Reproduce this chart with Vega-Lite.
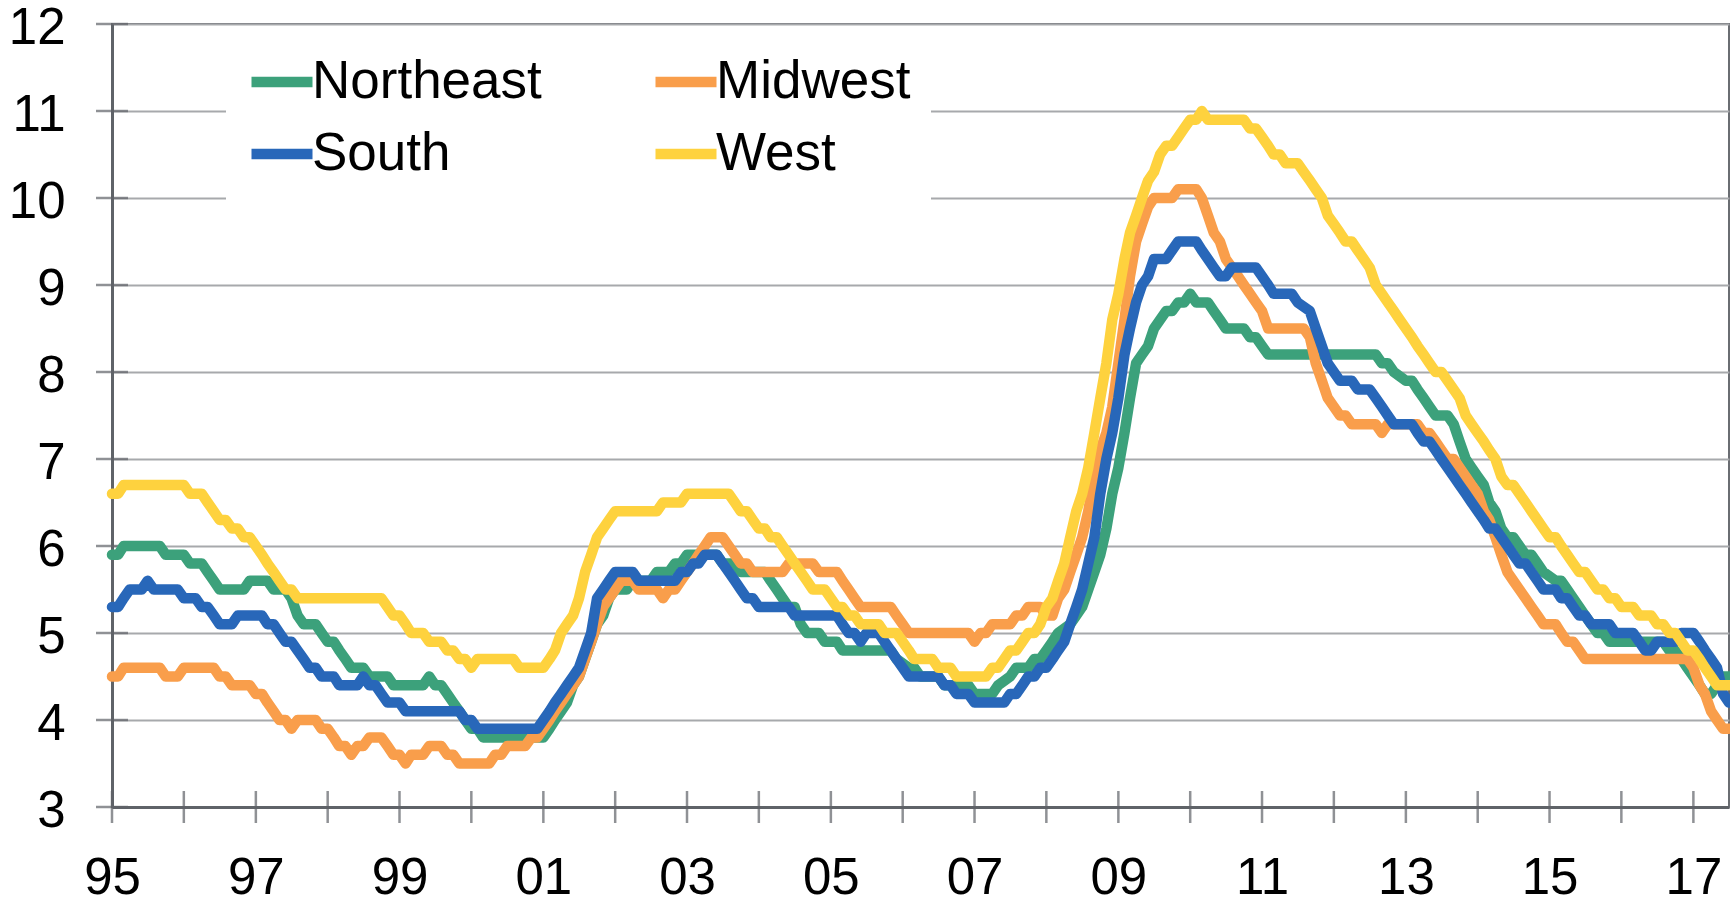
{
  "$schema": "https://vega.github.io/schema/vega-lite/v6.json",
  "width": 1617,
  "height": 783,
  "autosize": {"type": "none"},
  "padding": {"left": 112, "top": 24, "right": 1, "bottom": 91},
  "background": "white",
  "config": {
    "font": "Liberation Sans",
    "view": {"stroke": "#6a6d72", "strokeWidth": 2},
    "axis": {
      "title": null,
      "domainColor": "#5f6368",
      "domainWidth": 3,
      "ticks": false,
      "labelFont": "Liberation Sans",
      "labelFontSize": 51,
      "labelColor": "#000000",
      "labelFlush": false,
      "labelOverlap": false,
      "labelBound": false,
      "gridColor": "#a7a9ac",
      "gridWidth": 2
    }
  },
  "layer": [
    {
      "data": {"values": [{"t": 3}, {"t": 4}, {"t": 5}, {"t": 6}, {"t": 7}, {"t": 8}, {"t": 9}, {"t": 10}, {"t": 11}, {"t": 12}]},
      "mark": {"type": "tick", "orient": "horizontal", "size": 32, "thickness": 2.5, "color": "#5f6368"},
      "encoding": {
        "x": {"datum": {"year": 1995, "month": 1, "date": 1, "utc": true}, "type": "temporal"},
        "y": {"field": "t", "type": "quantitative"}
      }
    },
    {
      "data": {"values": [{"yr": "1995-01"}, {"yr": "1996-01"}, {"yr": "1997-01"}, {"yr": "1998-01"}, {"yr": "1999-01"}, {"yr": "2000-01"}, {"yr": "2001-01"}, {"yr": "2002-01"}, {"yr": "2003-01"}, {"yr": "2004-01"}, {"yr": "2005-01"}, {"yr": "2006-01"}, {"yr": "2007-01"}, {"yr": "2008-01"}, {"yr": "2009-01"}, {"yr": "2010-01"}, {"yr": "2011-01"}, {"yr": "2012-01"}, {"yr": "2013-01"}, {"yr": "2014-01"}, {"yr": "2015-01"}, {"yr": "2016-01"}, {"yr": "2017-01"}]},
      "mark": {"type": "tick", "orient": "vertical", "size": 32, "thickness": 2.5, "color": "#5f6368"},
      "encoding": {
        "x": {"field": "yr", "type": "temporal"},
        "y": {"datum": 3, "type": "quantitative"}
      }
    },
    {
      "data": {"values": [
        {"r":"Northeast","d":"1995-01","v":5.9},{"r":"Northeast","d":"1995-02","v":5.9},{"r":"Northeast","d":"1995-03","v":6.0},{"r":"Northeast","d":"1995-09","v":6.0},{"r":"Northeast","d":"1995-10","v":5.9},{"r":"Northeast","d":"1996-01","v":5.9},{"r":"Northeast","d":"1996-02","v":5.8},{"r":"Northeast","d":"1996-04","v":5.8},{"r":"Northeast","d":"1996-05","v":5.7},{"r":"Northeast","d":"1996-06","v":5.6},{"r":"Northeast","d":"1996-07","v":5.5},{"r":"Northeast","d":"1996-11","v":5.5},{"r":"Northeast","d":"1996-12","v":5.6},{"r":"Northeast","d":"1997-03","v":5.6},{"r":"Northeast","d":"1997-04","v":5.5},{"r":"Northeast","d":"1997-06","v":5.5},{"r":"Northeast","d":"1997-07","v":5.4},{"r":"Northeast","d":"1997-08","v":5.2},{"r":"Northeast","d":"1997-09","v":5.1},{"r":"Northeast","d":"1997-11","v":5.1},{"r":"Northeast","d":"1997-12","v":5.0},{"r":"Northeast","d":"1998-01","v":4.9},{"r":"Northeast","d":"1998-02","v":4.9},{"r":"Northeast","d":"1998-03","v":4.8},{"r":"Northeast","d":"1998-04","v":4.7},{"r":"Northeast","d":"1998-05","v":4.6},{"r":"Northeast","d":"1998-07","v":4.6},{"r":"Northeast","d":"1998-08","v":4.5},{"r":"Northeast","d":"1998-11","v":4.5},{"r":"Northeast","d":"1998-12","v":4.4},{"r":"Northeast","d":"1999-05","v":4.4},{"r":"Northeast","d":"1999-06","v":4.5},{"r":"Northeast","d":"1999-07","v":4.4},{"r":"Northeast","d":"1999-08","v":4.4},{"r":"Northeast","d":"1999-09","v":4.3},{"r":"Northeast","d":"1999-10","v":4.2},{"r":"Northeast","d":"1999-11","v":4.1},{"r":"Northeast","d":"1999-12","v":4.0},{"r":"Northeast","d":"2000-01","v":3.9},{"r":"Northeast","d":"2000-02","v":3.9},{"r":"Northeast","d":"2000-03","v":3.8},{"r":"Northeast","d":"2001-01","v":3.8},{"r":"Northeast","d":"2001-02","v":3.9},{"r":"Northeast","d":"2001-03","v":4.0},{"r":"Northeast","d":"2001-04","v":4.1},{"r":"Northeast","d":"2001-05","v":4.2},{"r":"Northeast","d":"2001-06","v":4.4},{"r":"Northeast","d":"2001-07","v":4.5},{"r":"Northeast","d":"2001-08","v":4.7},{"r":"Northeast","d":"2001-09","v":4.9},{"r":"Northeast","d":"2001-10","v":5.1},{"r":"Northeast","d":"2001-11","v":5.2},{"r":"Northeast","d":"2001-12","v":5.4},{"r":"Northeast","d":"2002-01","v":5.5},{"r":"Northeast","d":"2002-03","v":5.5},{"r":"Northeast","d":"2002-04","v":5.6},{"r":"Northeast","d":"2002-07","v":5.6},{"r":"Northeast","d":"2002-08","v":5.7},{"r":"Northeast","d":"2002-10","v":5.7},{"r":"Northeast","d":"2002-11","v":5.8},{"r":"Northeast","d":"2002-12","v":5.8},{"r":"Northeast","d":"2003-01","v":5.9},{"r":"Northeast","d":"2003-06","v":5.9},{"r":"Northeast","d":"2003-07","v":5.8},{"r":"Northeast","d":"2003-09","v":5.8},{"r":"Northeast","d":"2003-10","v":5.7},{"r":"Northeast","d":"2004-02","v":5.7},{"r":"Northeast","d":"2004-03","v":5.6},{"r":"Northeast","d":"2004-04","v":5.5},{"r":"Northeast","d":"2004-05","v":5.4},{"r":"Northeast","d":"2004-06","v":5.3},{"r":"Northeast","d":"2004-07","v":5.3},{"r":"Northeast","d":"2004-08","v":5.1},{"r":"Northeast","d":"2004-09","v":5.0},{"r":"Northeast","d":"2004-11","v":5.0},{"r":"Northeast","d":"2004-12","v":4.9},{"r":"Northeast","d":"2005-02","v":4.9},{"r":"Northeast","d":"2005-03","v":4.8},{"r":"Northeast","d":"2005-11","v":4.8},{"r":"Northeast","d":"2005-12","v":4.7},{"r":"Northeast","d":"2006-02","v":4.6},{"r":"Northeast","d":"2006-03","v":4.6},{"r":"Northeast","d":"2006-04","v":4.5},{"r":"Northeast","d":"2006-07","v":4.5},{"r":"Northeast","d":"2006-08","v":4.4},{"r":"Northeast","d":"2006-12","v":4.4},{"r":"Northeast","d":"2007-01","v":4.3},{"r":"Northeast","d":"2007-04","v":4.3},{"r":"Northeast","d":"2007-05","v":4.4},{"r":"Northeast","d":"2007-07","v":4.5},{"r":"Northeast","d":"2007-08","v":4.6},{"r":"Northeast","d":"2007-10","v":4.6},{"r":"Northeast","d":"2007-11","v":4.7},{"r":"Northeast","d":"2007-12","v":4.7},{"r":"Northeast","d":"2008-01","v":4.8},{"r":"Northeast","d":"2008-02","v":4.9},{"r":"Northeast","d":"2008-03","v":5.0},{"r":"Northeast","d":"2008-05","v":5.1},{"r":"Northeast","d":"2008-06","v":5.2},{"r":"Northeast","d":"2008-07","v":5.3},{"r":"Northeast","d":"2008-08","v":5.5},{"r":"Northeast","d":"2008-09","v":5.7},{"r":"Northeast","d":"2008-10","v":5.9},{"r":"Northeast","d":"2008-11","v":6.2},{"r":"Northeast","d":"2008-12","v":6.6},{"r":"Northeast","d":"2009-01","v":6.9},{"r":"Northeast","d":"2009-02","v":7.3},{"r":"Northeast","d":"2009-03","v":7.7},{"r":"Northeast","d":"2009-04","v":8.1},{"r":"Northeast","d":"2009-05","v":8.2},{"r":"Northeast","d":"2009-06","v":8.3},{"r":"Northeast","d":"2009-07","v":8.5},{"r":"Northeast","d":"2009-08","v":8.6},{"r":"Northeast","d":"2009-09","v":8.7},{"r":"Northeast","d":"2009-10","v":8.7},{"r":"Northeast","d":"2009-11","v":8.8},{"r":"Northeast","d":"2009-12","v":8.8},{"r":"Northeast","d":"2010-01","v":8.9},{"r":"Northeast","d":"2010-02","v":8.8},{"r":"Northeast","d":"2010-04","v":8.8},{"r":"Northeast","d":"2010-05","v":8.7},{"r":"Northeast","d":"2010-06","v":8.6},{"r":"Northeast","d":"2010-07","v":8.5},{"r":"Northeast","d":"2010-10","v":8.5},{"r":"Northeast","d":"2010-11","v":8.4},{"r":"Northeast","d":"2010-12","v":8.4},{"r":"Northeast","d":"2011-01","v":8.3},{"r":"Northeast","d":"2011-02","v":8.2},{"r":"Northeast","d":"2012-08","v":8.2},{"r":"Northeast","d":"2012-09","v":8.1},{"r":"Northeast","d":"2012-10","v":8.1},{"r":"Northeast","d":"2012-11","v":8.0},{"r":"Northeast","d":"2013-01","v":7.9},{"r":"Northeast","d":"2013-02","v":7.9},{"r":"Northeast","d":"2013-03","v":7.8},{"r":"Northeast","d":"2013-04","v":7.7},{"r":"Northeast","d":"2013-05","v":7.6},{"r":"Northeast","d":"2013-06","v":7.5},{"r":"Northeast","d":"2013-08","v":7.5},{"r":"Northeast","d":"2013-09","v":7.4},{"r":"Northeast","d":"2013-10","v":7.2},{"r":"Northeast","d":"2013-11","v":7.0},{"r":"Northeast","d":"2013-12","v":6.9},{"r":"Northeast","d":"2014-01","v":6.8},{"r":"Northeast","d":"2014-02","v":6.7},{"r":"Northeast","d":"2014-03","v":6.5},{"r":"Northeast","d":"2014-04","v":6.4},{"r":"Northeast","d":"2014-05","v":6.2},{"r":"Northeast","d":"2014-06","v":6.1},{"r":"Northeast","d":"2014-07","v":6.1},{"r":"Northeast","d":"2014-08","v":6.0},{"r":"Northeast","d":"2014-09","v":5.9},{"r":"Northeast","d":"2014-10","v":5.9},{"r":"Northeast","d":"2014-11","v":5.8},{"r":"Northeast","d":"2014-12","v":5.7},{"r":"Northeast","d":"2015-02","v":5.6},{"r":"Northeast","d":"2015-03","v":5.6},{"r":"Northeast","d":"2015-04","v":5.5},{"r":"Northeast","d":"2015-05","v":5.4},{"r":"Northeast","d":"2015-06","v":5.3},{"r":"Northeast","d":"2015-07","v":5.2},{"r":"Northeast","d":"2015-08","v":5.1},{"r":"Northeast","d":"2015-09","v":5.0},{"r":"Northeast","d":"2015-10","v":5.0},{"r":"Northeast","d":"2015-11","v":4.9},{"r":"Northeast","d":"2016-08","v":4.9},{"r":"Northeast","d":"2016-09","v":4.8},{"r":"Northeast","d":"2016-10","v":4.8},{"r":"Northeast","d":"2016-11","v":4.7},{"r":"Northeast","d":"2016-12","v":4.6},{"r":"Northeast","d":"2017-01","v":4.5},{"r":"Northeast","d":"2017-02","v":4.4},{"r":"Northeast","d":"2017-03","v":4.3},{"r":"Northeast","d":"2017-04","v":4.3},{"r":"Northeast","d":"2017-05","v":4.4},{"r":"Northeast","d":"2017-06","v":4.5},{"r":"Northeast","d":"2017-07","v":4.5},
        {"r":"Midwest","d":"1995-01","v":4.5},{"r":"Midwest","d":"1995-02","v":4.5},{"r":"Midwest","d":"1995-03","v":4.6},{"r":"Midwest","d":"1995-09","v":4.6},{"r":"Midwest","d":"1995-10","v":4.5},{"r":"Midwest","d":"1995-12","v":4.5},{"r":"Midwest","d":"1996-01","v":4.6},{"r":"Midwest","d":"1996-06","v":4.6},{"r":"Midwest","d":"1996-07","v":4.5},{"r":"Midwest","d":"1996-08","v":4.5},{"r":"Midwest","d":"1996-09","v":4.4},{"r":"Midwest","d":"1996-12","v":4.4},{"r":"Midwest","d":"1997-01","v":4.3},{"r":"Midwest","d":"1997-02","v":4.3},{"r":"Midwest","d":"1997-03","v":4.2},{"r":"Midwest","d":"1997-04","v":4.1},{"r":"Midwest","d":"1997-05","v":4.0},{"r":"Midwest","d":"1997-06","v":4.0},{"r":"Midwest","d":"1997-07","v":3.9},{"r":"Midwest","d":"1997-08","v":4.0},{"r":"Midwest","d":"1997-11","v":4.0},{"r":"Midwest","d":"1997-12","v":3.9},{"r":"Midwest","d":"1998-01","v":3.9},{"r":"Midwest","d":"1998-02","v":3.8},{"r":"Midwest","d":"1998-03","v":3.7},{"r":"Midwest","d":"1998-04","v":3.7},{"r":"Midwest","d":"1998-05","v":3.6},{"r":"Midwest","d":"1998-06","v":3.7},{"r":"Midwest","d":"1998-07","v":3.7},{"r":"Midwest","d":"1998-08","v":3.8},{"r":"Midwest","d":"1998-10","v":3.8},{"r":"Midwest","d":"1998-11","v":3.7},{"r":"Midwest","d":"1998-12","v":3.6},{"r":"Midwest","d":"1999-01","v":3.6},{"r":"Midwest","d":"1999-02","v":3.5},{"r":"Midwest","d":"1999-03","v":3.6},{"r":"Midwest","d":"1999-05","v":3.6},{"r":"Midwest","d":"1999-06","v":3.7},{"r":"Midwest","d":"1999-08","v":3.7},{"r":"Midwest","d":"1999-09","v":3.6},{"r":"Midwest","d":"1999-10","v":3.6},{"r":"Midwest","d":"1999-11","v":3.5},{"r":"Midwest","d":"2000-04","v":3.5},{"r":"Midwest","d":"2000-05","v":3.6},{"r":"Midwest","d":"2000-06","v":3.6},{"r":"Midwest","d":"2000-07","v":3.7},{"r":"Midwest","d":"2000-10","v":3.7},{"r":"Midwest","d":"2000-11","v":3.8},{"r":"Midwest","d":"2000-12","v":3.8},{"r":"Midwest","d":"2001-01","v":3.9},{"r":"Midwest","d":"2001-02","v":4.0},{"r":"Midwest","d":"2001-03","v":4.1},{"r":"Midwest","d":"2001-04","v":4.2},{"r":"Midwest","d":"2001-05","v":4.3},{"r":"Midwest","d":"2001-06","v":4.4},{"r":"Midwest","d":"2001-07","v":4.5},{"r":"Midwest","d":"2001-08","v":4.7},{"r":"Midwest","d":"2001-09","v":4.9},{"r":"Midwest","d":"2001-10","v":5.1},{"r":"Midwest","d":"2001-11","v":5.3},{"r":"Midwest","d":"2001-12","v":5.4},{"r":"Midwest","d":"2002-01","v":5.5},{"r":"Midwest","d":"2002-02","v":5.6},{"r":"Midwest","d":"2002-04","v":5.6},{"r":"Midwest","d":"2002-05","v":5.5},{"r":"Midwest","d":"2002-08","v":5.5},{"r":"Midwest","d":"2002-09","v":5.4},{"r":"Midwest","d":"2002-10","v":5.5},{"r":"Midwest","d":"2002-11","v":5.5},{"r":"Midwest","d":"2002-12","v":5.6},{"r":"Midwest","d":"2003-01","v":5.7},{"r":"Midwest","d":"2003-02","v":5.8},{"r":"Midwest","d":"2003-03","v":5.9},{"r":"Midwest","d":"2003-04","v":6.0},{"r":"Midwest","d":"2003-05","v":6.1},{"r":"Midwest","d":"2003-07","v":6.1},{"r":"Midwest","d":"2003-08","v":6.0},{"r":"Midwest","d":"2003-09","v":5.9},{"r":"Midwest","d":"2003-10","v":5.8},{"r":"Midwest","d":"2003-11","v":5.8},{"r":"Midwest","d":"2003-12","v":5.7},{"r":"Midwest","d":"2004-05","v":5.7},{"r":"Midwest","d":"2004-06","v":5.8},{"r":"Midwest","d":"2004-10","v":5.8},{"r":"Midwest","d":"2004-11","v":5.7},{"r":"Midwest","d":"2005-02","v":5.7},{"r":"Midwest","d":"2005-03","v":5.6},{"r":"Midwest","d":"2005-04","v":5.5},{"r":"Midwest","d":"2005-05","v":5.4},{"r":"Midwest","d":"2005-06","v":5.3},{"r":"Midwest","d":"2005-11","v":5.3},{"r":"Midwest","d":"2005-12","v":5.2},{"r":"Midwest","d":"2006-01","v":5.1},{"r":"Midwest","d":"2006-02","v":5.0},{"r":"Midwest","d":"2006-12","v":5.0},{"r":"Midwest","d":"2007-01","v":4.9},{"r":"Midwest","d":"2007-02","v":5.0},{"r":"Midwest","d":"2007-03","v":5.0},{"r":"Midwest","d":"2007-04","v":5.1},{"r":"Midwest","d":"2007-07","v":5.1},{"r":"Midwest","d":"2007-08","v":5.2},{"r":"Midwest","d":"2007-09","v":5.2},{"r":"Midwest","d":"2007-10","v":5.3},{"r":"Midwest","d":"2007-12","v":5.3},{"r":"Midwest","d":"2008-01","v":5.2},{"r":"Midwest","d":"2008-02","v":5.2},{"r":"Midwest","d":"2008-03","v":5.4},{"r":"Midwest","d":"2008-04","v":5.5},{"r":"Midwest","d":"2008-05","v":5.7},{"r":"Midwest","d":"2008-06","v":5.9},{"r":"Midwest","d":"2008-07","v":6.1},{"r":"Midwest","d":"2008-08","v":6.4},{"r":"Midwest","d":"2008-09","v":6.8},{"r":"Midwest","d":"2008-10","v":7.1},{"r":"Midwest","d":"2008-11","v":7.3},{"r":"Midwest","d":"2008-12","v":7.6},{"r":"Midwest","d":"2009-01","v":8.1},{"r":"Midwest","d":"2009-02","v":8.6},{"r":"Midwest","d":"2009-03","v":9.1},{"r":"Midwest","d":"2009-04","v":9.5},{"r":"Midwest","d":"2009-05","v":9.7},{"r":"Midwest","d":"2009-06","v":9.9},{"r":"Midwest","d":"2009-07","v":10.0},{"r":"Midwest","d":"2009-10","v":10.0},{"r":"Midwest","d":"2009-11","v":10.1},{"r":"Midwest","d":"2010-02","v":10.1},{"r":"Midwest","d":"2010-03","v":10.0},{"r":"Midwest","d":"2010-04","v":9.8},{"r":"Midwest","d":"2010-05","v":9.6},{"r":"Midwest","d":"2010-06","v":9.5},{"r":"Midwest","d":"2010-07","v":9.3},{"r":"Midwest","d":"2010-08","v":9.2},{"r":"Midwest","d":"2010-09","v":9.1},{"r":"Midwest","d":"2010-10","v":9.0},{"r":"Midwest","d":"2010-11","v":8.9},{"r":"Midwest","d":"2010-12","v":8.8},{"r":"Midwest","d":"2011-01","v":8.7},{"r":"Midwest","d":"2011-02","v":8.5},{"r":"Midwest","d":"2011-08","v":8.5},{"r":"Midwest","d":"2011-09","v":8.4},{"r":"Midwest","d":"2011-10","v":8.1},{"r":"Midwest","d":"2011-11","v":7.9},{"r":"Midwest","d":"2011-12","v":7.7},{"r":"Midwest","d":"2012-01","v":7.6},{"r":"Midwest","d":"2012-02","v":7.5},{"r":"Midwest","d":"2012-03","v":7.5},{"r":"Midwest","d":"2012-04","v":7.4},{"r":"Midwest","d":"2012-08","v":7.4},{"r":"Midwest","d":"2012-09","v":7.3},{"r":"Midwest","d":"2012-10","v":7.4},{"r":"Midwest","d":"2013-03","v":7.4},{"r":"Midwest","d":"2013-04","v":7.3},{"r":"Midwest","d":"2013-05","v":7.3},{"r":"Midwest","d":"2013-06","v":7.2},{"r":"Midwest","d":"2013-07","v":7.1},{"r":"Midwest","d":"2013-08","v":7.0},{"r":"Midwest","d":"2013-09","v":7.0},{"r":"Midwest","d":"2013-10","v":6.9},{"r":"Midwest","d":"2013-11","v":6.8},{"r":"Midwest","d":"2013-12","v":6.7},{"r":"Midwest","d":"2014-01","v":6.6},{"r":"Midwest","d":"2014-02","v":6.4},{"r":"Midwest","d":"2014-03","v":6.3},{"r":"Midwest","d":"2014-04","v":6.1},{"r":"Midwest","d":"2014-05","v":5.9},{"r":"Midwest","d":"2014-06","v":5.7},{"r":"Midwest","d":"2014-07","v":5.6},{"r":"Midwest","d":"2014-08","v":5.5},{"r":"Midwest","d":"2014-09","v":5.4},{"r":"Midwest","d":"2014-10","v":5.3},{"r":"Midwest","d":"2014-11","v":5.2},{"r":"Midwest","d":"2014-12","v":5.1},{"r":"Midwest","d":"2015-02","v":5.1},{"r":"Midwest","d":"2015-03","v":5.0},{"r":"Midwest","d":"2015-04","v":4.9},{"r":"Midwest","d":"2015-05","v":4.9},{"r":"Midwest","d":"2015-06","v":4.8},{"r":"Midwest","d":"2015-07","v":4.7},{"r":"Midwest","d":"2016-12","v":4.7},{"r":"Midwest","d":"2017-01","v":4.6},{"r":"Midwest","d":"2017-02","v":4.4},{"r":"Midwest","d":"2017-03","v":4.3},{"r":"Midwest","d":"2017-04","v":4.1},{"r":"Midwest","d":"2017-05","v":4.0},{"r":"Midwest","d":"2017-06","v":3.9},{"r":"Midwest","d":"2017-07","v":3.9},
        {"r":"South","d":"1995-01","v":5.3},{"r":"South","d":"1995-02","v":5.3},{"r":"South","d":"1995-03","v":5.4},{"r":"South","d":"1995-04","v":5.5},{"r":"South","d":"1995-06","v":5.5},{"r":"South","d":"1995-07","v":5.6},{"r":"South","d":"1995-08","v":5.5},{"r":"South","d":"1995-12","v":5.5},{"r":"South","d":"1996-01","v":5.4},{"r":"South","d":"1996-03","v":5.4},{"r":"South","d":"1996-04","v":5.3},{"r":"South","d":"1996-05","v":5.3},{"r":"South","d":"1996-06","v":5.2},{"r":"South","d":"1996-07","v":5.1},{"r":"South","d":"1996-09","v":5.1},{"r":"South","d":"1996-10","v":5.2},{"r":"South","d":"1997-02","v":5.2},{"r":"South","d":"1997-03","v":5.1},{"r":"South","d":"1997-04","v":5.1},{"r":"South","d":"1997-05","v":5.0},{"r":"South","d":"1997-06","v":4.9},{"r":"South","d":"1997-07","v":4.9},{"r":"South","d":"1997-08","v":4.8},{"r":"South","d":"1997-09","v":4.7},{"r":"South","d":"1997-10","v":4.6},{"r":"South","d":"1997-11","v":4.6},{"r":"South","d":"1997-12","v":4.5},{"r":"South","d":"1998-02","v":4.5},{"r":"South","d":"1998-03","v":4.4},{"r":"South","d":"1998-06","v":4.4},{"r":"South","d":"1998-07","v":4.5},{"r":"South","d":"1998-08","v":4.4},{"r":"South","d":"1998-09","v":4.4},{"r":"South","d":"1998-10","v":4.3},{"r":"South","d":"1998-11","v":4.2},{"r":"South","d":"1999-01","v":4.2},{"r":"South","d":"1999-02","v":4.1},{"r":"South","d":"1999-11","v":4.1},{"r":"South","d":"1999-12","v":4.0},{"r":"South","d":"2000-01","v":4.0},{"r":"South","d":"2000-02","v":3.9},{"r":"South","d":"2000-12","v":3.9},{"r":"South","d":"2001-01","v":4.0},{"r":"South","d":"2001-02","v":4.1},{"r":"South","d":"2001-03","v":4.2},{"r":"South","d":"2001-04","v":4.3},{"r":"South","d":"2001-05","v":4.4},{"r":"South","d":"2001-06","v":4.5},{"r":"South","d":"2001-07","v":4.6},{"r":"South","d":"2001-08","v":4.8},{"r":"South","d":"2001-09","v":5.0},{"r":"South","d":"2001-10","v":5.4},{"r":"South","d":"2001-11","v":5.5},{"r":"South","d":"2001-12","v":5.6},{"r":"South","d":"2002-01","v":5.7},{"r":"South","d":"2002-04","v":5.7},{"r":"South","d":"2002-05","v":5.6},{"r":"South","d":"2002-11","v":5.6},{"r":"South","d":"2002-12","v":5.7},{"r":"South","d":"2003-01","v":5.7},{"r":"South","d":"2003-02","v":5.8},{"r":"South","d":"2003-03","v":5.8},{"r":"South","d":"2003-04","v":5.9},{"r":"South","d":"2003-06","v":5.9},{"r":"South","d":"2003-07","v":5.8},{"r":"South","d":"2003-08","v":5.7},{"r":"South","d":"2003-09","v":5.6},{"r":"South","d":"2003-10","v":5.5},{"r":"South","d":"2003-11","v":5.4},{"r":"South","d":"2003-12","v":5.4},{"r":"South","d":"2004-01","v":5.3},{"r":"South","d":"2004-06","v":5.3},{"r":"South","d":"2004-07","v":5.2},{"r":"South","d":"2005-02","v":5.2},{"r":"South","d":"2005-03","v":5.1},{"r":"South","d":"2005-04","v":5.0},{"r":"South","d":"2005-05","v":5.0},{"r":"South","d":"2005-06","v":4.9},{"r":"South","d":"2005-07","v":5.0},{"r":"South","d":"2005-09","v":5.0},{"r":"South","d":"2005-10","v":4.9},{"r":"South","d":"2005-11","v":4.8},{"r":"South","d":"2005-12","v":4.7},{"r":"South","d":"2006-01","v":4.6},{"r":"South","d":"2006-02","v":4.5},{"r":"South","d":"2006-07","v":4.5},{"r":"South","d":"2006-08","v":4.4},{"r":"South","d":"2006-09","v":4.4},{"r":"South","d":"2006-10","v":4.3},{"r":"South","d":"2006-12","v":4.3},{"r":"South","d":"2007-01","v":4.2},{"r":"South","d":"2007-06","v":4.2},{"r":"South","d":"2007-07","v":4.3},{"r":"South","d":"2007-08","v":4.3},{"r":"South","d":"2007-09","v":4.4},{"r":"South","d":"2007-10","v":4.5},{"r":"South","d":"2007-11","v":4.5},{"r":"South","d":"2007-12","v":4.6},{"r":"South","d":"2008-01","v":4.6},{"r":"South","d":"2008-02","v":4.7},{"r":"South","d":"2008-03","v":4.8},{"r":"South","d":"2008-04","v":4.9},{"r":"South","d":"2008-05","v":5.1},{"r":"South","d":"2008-06","v":5.3},{"r":"South","d":"2008-07","v":5.5},{"r":"South","d":"2008-08","v":5.8},{"r":"South","d":"2008-09","v":6.1},{"r":"South","d":"2008-10","v":6.6},{"r":"South","d":"2008-11","v":7.0},{"r":"South","d":"2008-12","v":7.3},{"r":"South","d":"2009-01","v":7.7},{"r":"South","d":"2009-02","v":8.2},{"r":"South","d":"2009-03","v":8.5},{"r":"South","d":"2009-04","v":8.8},{"r":"South","d":"2009-05","v":9.0},{"r":"South","d":"2009-06","v":9.1},{"r":"South","d":"2009-07","v":9.3},{"r":"South","d":"2009-09","v":9.3},{"r":"South","d":"2009-10","v":9.4},{"r":"South","d":"2009-11","v":9.5},{"r":"South","d":"2010-02","v":9.5},{"r":"South","d":"2010-03","v":9.4},{"r":"South","d":"2010-04","v":9.3},{"r":"South","d":"2010-05","v":9.2},{"r":"South","d":"2010-06","v":9.1},{"r":"South","d":"2010-07","v":9.1},{"r":"South","d":"2010-08","v":9.2},{"r":"South","d":"2010-12","v":9.2},{"r":"South","d":"2011-01","v":9.1},{"r":"South","d":"2011-02","v":9.0},{"r":"South","d":"2011-03","v":8.9},{"r":"South","d":"2011-06","v":8.9},{"r":"South","d":"2011-07","v":8.8},{"r":"South","d":"2011-09","v":8.7},{"r":"South","d":"2011-10","v":8.5},{"r":"South","d":"2011-11","v":8.3},{"r":"South","d":"2011-12","v":8.1},{"r":"South","d":"2012-01","v":8.0},{"r":"South","d":"2012-02","v":7.9},{"r":"South","d":"2012-04","v":7.9},{"r":"South","d":"2012-05","v":7.8},{"r":"South","d":"2012-07","v":7.8},{"r":"South","d":"2012-08","v":7.7},{"r":"South","d":"2012-09","v":7.6},{"r":"South","d":"2012-10","v":7.5},{"r":"South","d":"2012-11","v":7.4},{"r":"South","d":"2013-02","v":7.4},{"r":"South","d":"2013-03","v":7.3},{"r":"South","d":"2013-04","v":7.2},{"r":"South","d":"2013-05","v":7.2},{"r":"South","d":"2013-06","v":7.1},{"r":"South","d":"2013-07","v":7.0},{"r":"South","d":"2013-08","v":6.9},{"r":"South","d":"2013-09","v":6.8},{"r":"South","d":"2013-10","v":6.7},{"r":"South","d":"2013-11","v":6.6},{"r":"South","d":"2013-12","v":6.5},{"r":"South","d":"2014-01","v":6.4},{"r":"South","d":"2014-02","v":6.3},{"r":"South","d":"2014-03","v":6.2},{"r":"South","d":"2014-04","v":6.2},{"r":"South","d":"2014-05","v":6.1},{"r":"South","d":"2014-06","v":6.0},{"r":"South","d":"2014-07","v":5.9},{"r":"South","d":"2014-08","v":5.8},{"r":"South","d":"2014-09","v":5.8},{"r":"South","d":"2014-10","v":5.7},{"r":"South","d":"2014-11","v":5.6},{"r":"South","d":"2014-12","v":5.5},{"r":"South","d":"2015-02","v":5.5},{"r":"South","d":"2015-03","v":5.4},{"r":"South","d":"2015-04","v":5.4},{"r":"South","d":"2015-05","v":5.3},{"r":"South","d":"2015-06","v":5.2},{"r":"South","d":"2015-07","v":5.2},{"r":"South","d":"2015-08","v":5.1},{"r":"South","d":"2015-11","v":5.1},{"r":"South","d":"2015-12","v":5.0},{"r":"South","d":"2016-03","v":5.0},{"r":"South","d":"2016-04","v":4.9},{"r":"South","d":"2016-05","v":4.8},{"r":"South","d":"2016-06","v":4.8},{"r":"South","d":"2016-07","v":4.9},{"r":"South","d":"2016-10","v":4.9},{"r":"South","d":"2016-11","v":5.0},{"r":"South","d":"2017-01","v":5.0},{"r":"South","d":"2017-02","v":4.9},{"r":"South","d":"2017-03","v":4.8},{"r":"South","d":"2017-04","v":4.7},{"r":"South","d":"2017-05","v":4.6},{"r":"South","d":"2017-06","v":4.3},{"r":"South","d":"2017-07","v":4.2},
        {"r":"West","d":"1995-01","v":6.6},{"r":"West","d":"1995-02","v":6.6},{"r":"West","d":"1995-03","v":6.7},{"r":"West","d":"1996-01","v":6.7},{"r":"West","d":"1996-02","v":6.6},{"r":"West","d":"1996-04","v":6.6},{"r":"West","d":"1996-05","v":6.5},{"r":"West","d":"1996-06","v":6.4},{"r":"West","d":"1996-07","v":6.3},{"r":"West","d":"1996-08","v":6.3},{"r":"West","d":"1996-09","v":6.2},{"r":"West","d":"1996-10","v":6.2},{"r":"West","d":"1996-11","v":6.1},{"r":"West","d":"1996-12","v":6.1},{"r":"West","d":"1997-01","v":6.0},{"r":"West","d":"1997-02","v":5.9},{"r":"West","d":"1997-03","v":5.8},{"r":"West","d":"1997-04","v":5.7},{"r":"West","d":"1997-05","v":5.6},{"r":"West","d":"1997-06","v":5.5},{"r":"West","d":"1997-07","v":5.5},{"r":"West","d":"1997-08","v":5.4},{"r":"West","d":"1998-10","v":5.4},{"r":"West","d":"1998-11","v":5.3},{"r":"West","d":"1998-12","v":5.2},{"r":"West","d":"1999-01","v":5.2},{"r":"West","d":"1999-02","v":5.1},{"r":"West","d":"1999-03","v":5.0},{"r":"West","d":"1999-05","v":5.0},{"r":"West","d":"1999-06","v":4.9},{"r":"West","d":"1999-08","v":4.9},{"r":"West","d":"1999-09","v":4.8},{"r":"West","d":"1999-10","v":4.8},{"r":"West","d":"1999-11","v":4.7},{"r":"West","d":"1999-12","v":4.7},{"r":"West","d":"2000-01","v":4.6},{"r":"West","d":"2000-02","v":4.7},{"r":"West","d":"2000-08","v":4.7},{"r":"West","d":"2000-09","v":4.6},{"r":"West","d":"2001-01","v":4.6},{"r":"West","d":"2001-02","v":4.7},{"r":"West","d":"2001-03","v":4.8},{"r":"West","d":"2001-04","v":5.0},{"r":"West","d":"2001-05","v":5.1},{"r":"West","d":"2001-06","v":5.2},{"r":"West","d":"2001-07","v":5.4},{"r":"West","d":"2001-08","v":5.7},{"r":"West","d":"2001-09","v":5.9},{"r":"West","d":"2001-10","v":6.1},{"r":"West","d":"2001-11","v":6.2},{"r":"West","d":"2001-12","v":6.3},{"r":"West","d":"2002-01","v":6.4},{"r":"West","d":"2002-08","v":6.4},{"r":"West","d":"2002-09","v":6.5},{"r":"West","d":"2002-12","v":6.5},{"r":"West","d":"2003-01","v":6.6},{"r":"West","d":"2003-08","v":6.6},{"r":"West","d":"2003-09","v":6.5},{"r":"West","d":"2003-10","v":6.4},{"r":"West","d":"2003-11","v":6.4},{"r":"West","d":"2003-12","v":6.3},{"r":"West","d":"2004-01","v":6.2},{"r":"West","d":"2004-02","v":6.2},{"r":"West","d":"2004-03","v":6.1},{"r":"West","d":"2004-04","v":6.1},{"r":"West","d":"2004-05","v":6.0},{"r":"West","d":"2004-06","v":5.9},{"r":"West","d":"2004-07","v":5.8},{"r":"West","d":"2004-08","v":5.7},{"r":"West","d":"2004-09","v":5.6},{"r":"West","d":"2004-10","v":5.5},{"r":"West","d":"2004-12","v":5.5},{"r":"West","d":"2005-01","v":5.4},{"r":"West","d":"2005-02","v":5.3},{"r":"West","d":"2005-03","v":5.3},{"r":"West","d":"2005-04","v":5.2},{"r":"West","d":"2005-05","v":5.2},{"r":"West","d":"2005-06","v":5.1},{"r":"West","d":"2005-09","v":5.1},{"r":"West","d":"2005-10","v":5.0},{"r":"West","d":"2005-12","v":5.0},{"r":"West","d":"2006-01","v":4.9},{"r":"West","d":"2006-02","v":4.8},{"r":"West","d":"2006-03","v":4.7},{"r":"West","d":"2006-06","v":4.7},{"r":"West","d":"2006-07","v":4.6},{"r":"West","d":"2006-09","v":4.6},{"r":"West","d":"2006-10","v":4.5},{"r":"West","d":"2007-03","v":4.5},{"r":"West","d":"2007-04","v":4.6},{"r":"West","d":"2007-05","v":4.6},{"r":"West","d":"2007-06","v":4.7},{"r":"West","d":"2007-07","v":4.8},{"r":"West","d":"2007-08","v":4.8},{"r":"West","d":"2007-09","v":4.9},{"r":"West","d":"2007-10","v":5.0},{"r":"West","d":"2007-11","v":5.0},{"r":"West","d":"2007-12","v":5.1},{"r":"West","d":"2008-01","v":5.3},{"r":"West","d":"2008-02","v":5.4},{"r":"West","d":"2008-03","v":5.6},{"r":"West","d":"2008-04","v":5.8},{"r":"West","d":"2008-05","v":6.1},{"r":"West","d":"2008-06","v":6.4},{"r":"West","d":"2008-07","v":6.6},{"r":"West","d":"2008-08","v":6.9},{"r":"West","d":"2008-09","v":7.3},{"r":"West","d":"2008-10","v":7.7},{"r":"West","d":"2008-11","v":8.1},{"r":"West","d":"2008-12","v":8.6},{"r":"West","d":"2009-01","v":8.9},{"r":"West","d":"2009-02","v":9.3},{"r":"West","d":"2009-03","v":9.6},{"r":"West","d":"2009-04","v":9.8},{"r":"West","d":"2009-05","v":10.0},{"r":"West","d":"2009-06","v":10.2},{"r":"West","d":"2009-07","v":10.3},{"r":"West","d":"2009-08","v":10.5},{"r":"West","d":"2009-09","v":10.6},{"r":"West","d":"2009-10","v":10.6},{"r":"West","d":"2009-11","v":10.7},{"r":"West","d":"2009-12","v":10.8},{"r":"West","d":"2010-01","v":10.9},{"r":"West","d":"2010-02","v":10.9},{"r":"West","d":"2010-03","v":11.0},{"r":"West","d":"2010-04","v":10.9},{"r":"West","d":"2010-10","v":10.9},{"r":"West","d":"2010-11","v":10.8},{"r":"West","d":"2010-12","v":10.8},{"r":"West","d":"2011-01","v":10.7},{"r":"West","d":"2011-02","v":10.6},{"r":"West","d":"2011-03","v":10.5},{"r":"West","d":"2011-04","v":10.5},{"r":"West","d":"2011-05","v":10.4},{"r":"West","d":"2011-07","v":10.4},{"r":"West","d":"2011-08","v":10.3},{"r":"West","d":"2011-09","v":10.2},{"r":"West","d":"2011-10","v":10.1},{"r":"West","d":"2011-11","v":10.0},{"r":"West","d":"2011-12","v":9.8},{"r":"West","d":"2012-01","v":9.7},{"r":"West","d":"2012-02","v":9.6},{"r":"West","d":"2012-03","v":9.5},{"r":"West","d":"2012-04","v":9.5},{"r":"West","d":"2012-05","v":9.4},{"r":"West","d":"2012-06","v":9.3},{"r":"West","d":"2012-07","v":9.2},{"r":"West","d":"2012-08","v":9.0},{"r":"West","d":"2012-09","v":8.9},{"r":"West","d":"2012-10","v":8.8},{"r":"West","d":"2012-11","v":8.7},{"r":"West","d":"2012-12","v":8.6},{"r":"West","d":"2013-01","v":8.5},{"r":"West","d":"2013-02","v":8.4},{"r":"West","d":"2013-03","v":8.3},{"r":"West","d":"2013-04","v":8.2},{"r":"West","d":"2013-05","v":8.1},{"r":"West","d":"2013-06","v":8.0},{"r":"West","d":"2013-07","v":8.0},{"r":"West","d":"2013-08","v":7.9},{"r":"West","d":"2013-09","v":7.8},{"r":"West","d":"2013-10","v":7.7},{"r":"West","d":"2013-11","v":7.5},{"r":"West","d":"2013-12","v":7.4},{"r":"West","d":"2014-01","v":7.3},{"r":"West","d":"2014-02","v":7.2},{"r":"West","d":"2014-03","v":7.1},{"r":"West","d":"2014-04","v":7.0},{"r":"West","d":"2014-05","v":6.8},{"r":"West","d":"2014-06","v":6.7},{"r":"West","d":"2014-07","v":6.7},{"r":"West","d":"2014-08","v":6.6},{"r":"West","d":"2014-09","v":6.5},{"r":"West","d":"2014-10","v":6.4},{"r":"West","d":"2014-11","v":6.3},{"r":"West","d":"2014-12","v":6.2},{"r":"West","d":"2015-01","v":6.1},{"r":"West","d":"2015-02","v":6.1},{"r":"West","d":"2015-03","v":6.0},{"r":"West","d":"2015-04","v":5.9},{"r":"West","d":"2015-05","v":5.8},{"r":"West","d":"2015-06","v":5.7},{"r":"West","d":"2015-07","v":5.7},{"r":"West","d":"2015-08","v":5.6},{"r":"West","d":"2015-09","v":5.5},{"r":"West","d":"2015-10","v":5.5},{"r":"West","d":"2015-11","v":5.4},{"r":"West","d":"2015-12","v":5.4},{"r":"West","d":"2016-01","v":5.3},{"r":"West","d":"2016-03","v":5.3},{"r":"West","d":"2016-04","v":5.2},{"r":"West","d":"2016-06","v":5.2},{"r":"West","d":"2016-07","v":5.1},{"r":"West","d":"2016-08","v":5.1},{"r":"West","d":"2016-09","v":5.0},{"r":"West","d":"2016-10","v":5.0},{"r":"West","d":"2016-11","v":4.9},{"r":"West","d":"2016-12","v":4.8},{"r":"West","d":"2017-01","v":4.8},{"r":"West","d":"2017-02","v":4.7},{"r":"West","d":"2017-03","v":4.6},{"r":"West","d":"2017-04","v":4.5},{"r":"West","d":"2017-05","v":4.4},{"r":"West","d":"2017-07","v":4.4}
      ]},
      "mark": {"type": "line", "strokeWidth": 10.5, "strokeCap": "round", "strokeJoin": "round"},
      "encoding": {
        "x": {
          "field": "d",
          "type": "temporal",
          "scale": {"type": "utc", "nice": false, "domain": [{"year": 1995, "month": 1, "date": 1, "utc": true}, {"year": 2017, "month": 7, "date": 1, "utc": true}]},
          "axis": {
            "title": null,
            "grid": false,
            "values": [
              {"year": 1995, "month": 1, "date": 1, "utc": true}, {"year": 1997, "month": 1, "date": 1, "utc": true},
              {"year": 1999, "month": 1, "date": 1, "utc": true}, {"year": 2001, "month": 1, "date": 1, "utc": true},
              {"year": 2003, "month": 1, "date": 1, "utc": true}, {"year": 2005, "month": 1, "date": 1, "utc": true},
              {"year": 2007, "month": 1, "date": 1, "utc": true}, {"year": 2009, "month": 1, "date": 1, "utc": true},
              {"year": 2011, "month": 1, "date": 1, "utc": true}, {"year": 2013, "month": 1, "date": 1, "utc": true},
              {"year": 2015, "month": 1, "date": 1, "utc": true}, {"year": 2017, "month": 1, "date": 1, "utc": true}
            ],
            "labelExpr": "utcFormat(datum.value, '%y')",
            "labelAlign": "center",
            "labelBaseline": "alphabetic",
            "labelPadding": 86
          }
        },
        "y": {
          "field": "v",
          "type": "quantitative",
          "scale": {"domain": [3, 12], "nice": false, "zero": false},
          "axis": {
            "title": null,
            "grid": true,
            "values": [3, 4, 5, 6, 7, 8, 9, 10, 11, 12],
            "format": "d",
            "labelAlign": "right",
            "labelBaseline": "alphabetic",
            "labelOffset": 19,
            "labelPadding": 47
          }
        },
        "color": {
          "field": "r",
          "type": "nominal",
          "sort": null,
          "scale": {"domain": ["Northeast", "Midwest", "South", "West"], "range": ["#3ca17b", "#f99e4b", "#2867b9", "#fed23e"]},
          "legend": {
            "title": null,
            "orient": "none",
            "legendX": 114,
            "legendY": 2,
            "columns": 2,
            "direction": "horizontal",
            "gridAlign": "all",
            "columnPadding": 92,
            "rowPadding": 9,
            "padding": 20,
            "fillColor": "white",
            "symbolType": "stroke",
            "symbolSize": 3721,
            "symbolStrokeWidth": 10.7,
            "labelFont": "Liberation Sans",
            "labelFontSize": 53,
            "labelColor": "#000000",
            "labelOffset": -6,
            "labelLimit": 800
          }
        }
      }
    }
  ]
}
